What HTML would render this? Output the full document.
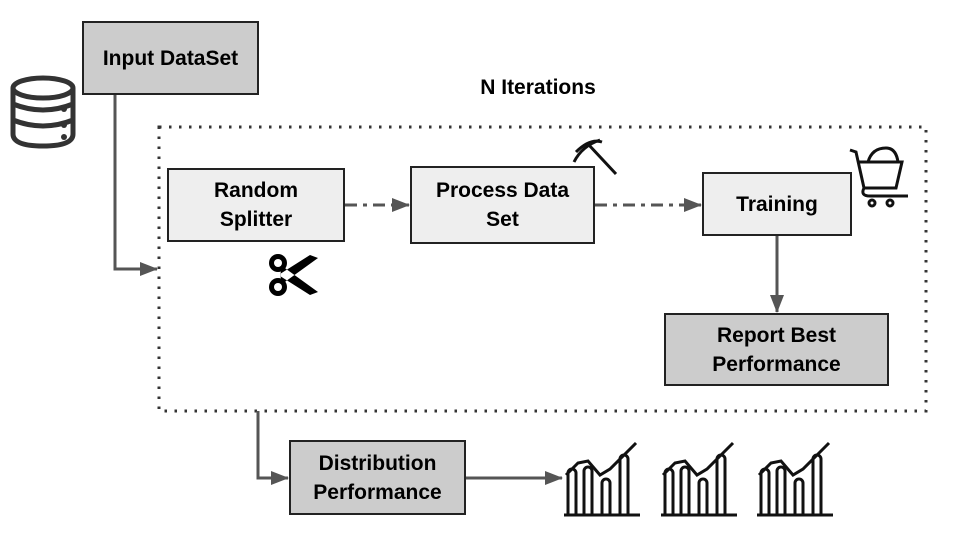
<!DOCTYPE html>
<html><head><style>
body{margin:0;width:960px;height:540px;background:#fff;overflow:hidden;position:relative;font-family:"Liberation Sans",sans-serif}
.b{position:absolute;box-sizing:border-box;border:2px solid #222;display:flex;align-items:center;justify-content:center;text-align:center;font-weight:bold;font-size:21px;line-height:29px;color:#000}
.d{background:#ccc}.l{background:#eee}
</style></head><body>
<svg width="960" height="540" style="position:absolute;left:0;top:0">
<defs><marker id="a" markerWidth="18" markerHeight="14" refX="17" refY="7" orient="auto" markerUnits="userSpaceOnUse"><path d="M0,0L18,7L0,14z" fill="#555"/></marker>
<g id="ch" fill="none" stroke="#111" stroke-width="3"><path d="M2,36 L14,24 L24,22 L36,36 L46,30 L72,4"/><path d="M0,76 L76,76"/><path d="M4,76 V34 a4,4 0 0 1 8,0 V76 M20,76 V32 a4,4 0 0 1 8,0 V76 M38,76 V44 a4,4 0 0 1 8,0 V76 M56,76 V20 a4,4 0 0 1 8,0 V76"/></g></defs>
<rect x="159" y="127" width="767" height="284" fill="none" stroke="#333" stroke-width="3" stroke-dasharray="2.5,7.5"/>
<g stroke="#555" stroke-width="3" fill="none">
<path d="M115,95 V269 H157" marker-end="url(#a)"/>
<path d="M345,205 H409" stroke-dasharray="12,6,4,6" marker-end="url(#a)"/>
<path d="M595,205 H701" stroke-dasharray="12,6,4,6" marker-end="url(#a)"/>
<path d="M777,236 V312" marker-end="url(#a)"/>
<path d="M258,411 V478 H288" marker-end="url(#a)"/>
<path d="M466,478 H562" marker-end="url(#a)"/>
</g>
<!-- db -->
<g fill="none" stroke="#333" stroke-width="5"><ellipse cx="43" cy="88" rx="30" ry="10"/><path d="M13,88 V134 Q13,146 43,146 Q73,146 73,134 V88 M13,104 Q43,116 73,104 M13,120 Q43,132 73,120"/></g>
<circle cx="64" cy="109" r="3" fill="#333"/><circle cx="64" cy="125" r="3" fill="#333"/><circle cx="64" cy="137" r="3" fill="#333"/>
<!-- scissors -->
<g fill="#000"><circle cx="278" cy="263" r="9"/><circle cx="278" cy="287" r="9"/><path d="M282,266 L318,292 L310,295 L280,276z M282,284 L318,258 L310,255 L280,274z"/></g>
<circle cx="278" cy="263" r="4" fill="#fff"/><circle cx="278" cy="287" r="4" fill="#fff"/>
<!-- pickaxe -->
<g fill="none" stroke="#111" stroke-width="3"><path d="M576,152 Q590,138 602,142 M588,144 L616,174"/><path d="M574,162 Q582,146 600,140"/></g>
<!-- cart -->
<g fill="none" stroke="#111" stroke-width="3"><path d="M850,150 L856,152 L864,188 L896,188 L902,162 L858,162 M864,188 Q860,196 870,196 L908,196"/><path d="M868,162 Q872,148 886,148 Q896,148 898,162"/><circle cx="872" cy="203" r="3"/><circle cx="890" cy="203" r="3"/></g>
<use href="#ch" x="564" y="439"/><use href="#ch" x="661" y="439"/><use href="#ch" x="757" y="439"/>
<text x="538" y="94" text-anchor="middle" font-family="Liberation Sans" font-weight="bold" font-size="21" fill="#000">N Iterations</text>
</svg>
<div class="b d" style="left:82px;top:21px;width:177px;height:74px">Input DataSet</div>
<div class="b l" style="left:167px;top:168px;width:178px;height:74px">Random<br>Splitter</div>
<div class="b l" style="left:410px;top:166px;width:185px;height:78px">Process Data<br>Set</div>
<div class="b l" style="left:702px;top:172px;width:150px;height:64px">Training</div>
<div class="b d" style="left:664px;top:313px;width:225px;height:73px">Report Best<br>Performance</div>
<div class="b d" style="left:289px;top:440px;width:177px;height:75px">Distribution<br>Performance</div>
</body></html>
